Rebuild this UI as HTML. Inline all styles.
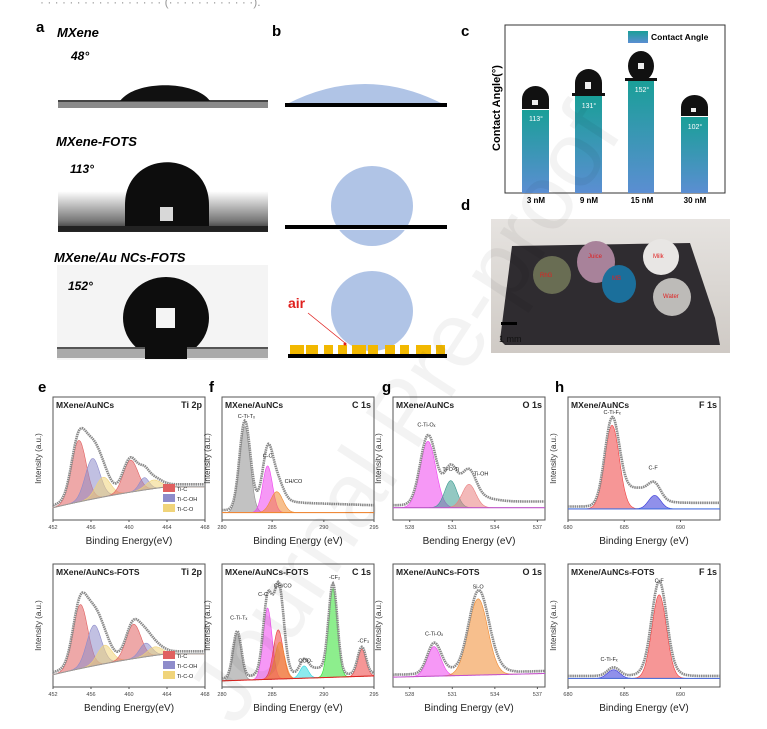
<!DOCTYPE html>
<html><head><meta charset="utf-8"><style>
html,body{margin:0;padding:0;background:#fff;}
svg{display:block;font-family:"Liberation Sans",Arial,sans-serif;}
</style></head><body>
<svg id="s" width="767" height="729" viewBox="0 0 767 729" xmlns="http://www.w3.org/2000/svg">
<defs>
<linearGradient id="bar" x1="0" y1="0" x2="0" y2="1"><stop offset="0" stop-color="#1a9f98"/><stop offset="1" stop-color="#5b8ed2"/></linearGradient>
<linearGradient id="bg2" x1="0" y1="0" x2="0" y2="1"><stop offset="0" stop-color="#fff"/><stop offset="0.45" stop-color="#fff"/><stop offset="0.85" stop-color="#777"/><stop offset="1" stop-color="#222"/></linearGradient>
<linearGradient id="ph" x1="0" y1="0" x2="0" y2="1"><stop offset="0" stop-color="#e6e3e0"/><stop offset="1" stop-color="#cfcac5"/></linearGradient>
</defs>
<text x="40" y="6" font-size="12" fill="#999">· · · · · · · · · · · · · · · · · (· · · ·  · · · · ·  · · ·).</text>

<text x="36" y="32" font-size="15" font-weight="bold">a</text>
<text x="57" y="37" font-size="13" font-weight="bold" font-style="italic">MXene</text>
<text x="71" y="60" font-size="12" font-weight="bold" font-style="italic">48°</text>
<rect x="58" y="100" width="210" height="8" fill="#8a8a8a"/>
<rect x="58" y="100" width="210" height="2" fill="#444"/>
<path d="M120,101 C135,80 195,80 210,101 Z" fill="#111"/>
<text x="56" y="146" font-size="13" font-weight="bold" font-style="italic">MXene-FOTS</text>
<rect x="58" y="158" width="210" height="74" fill="url(#bg2)"/>
<path d="M125,229 L125,205 C125,148 209,148 209,205 L209,229 Z" fill="#0d0d0d"/>
<rect x="160" y="207" width="13" height="14" fill="#eee" opacity="0.9"/>
<rect x="58" y="226" width="210" height="5" fill="#222"/>
<text x="70" y="173" font-size="12" font-weight="bold" font-style="italic">113°</text>
<text x="54" y="262" font-size="13" font-weight="bold" font-style="italic">MXene/Au NCs-FOTS</text>
<rect x="57" y="265" width="211" height="95" fill="#f4f4f4"/>
<ellipse cx="166" cy="318" rx="43" ry="41" fill="#0d0d0d"/>
<rect x="156" y="308" width="19" height="20" fill="#f4f4f4"/>
<rect x="57" y="347" width="211" height="11" fill="#aaa"/>
<rect x="57" y="347" width="211" height="2" fill="#555"/>
<rect x="145" y="347" width="42" height="12" fill="#0d0d0d"/>
<text x="68" y="290" font-size="12" font-weight="bold" font-style="italic">152°</text>

<text x="272" y="36" font-size="15" font-weight="bold">b</text>
<path d="M287,104 Q365,64 443,104 Z" fill="#b0c4e6"/>
<rect x="285" y="103" width="162" height="4" fill="#000"/>
<ellipse cx="372" cy="206" rx="41" ry="40" fill="#b0c4e6"/>
<rect x="285" y="226" width="162" height="4" fill="#fff"/>
<rect x="285" y="225" width="162" height="4" fill="#000"/>
<ellipse cx="372" cy="311" rx="41" ry="40" fill="#b0c4e6"/>
<g fill="#f2b800">
<rect x="290" y="345" width="14" height="9"/><rect x="306" y="345" width="12" height="9"/><rect x="324" y="345" width="9" height="9"/><rect x="338" y="345" width="9" height="9"/><rect x="352" y="345" width="14" height="9"/><rect x="368" y="345" width="10" height="9"/><rect x="385" y="345" width="10" height="9"/><rect x="400" y="345" width="9" height="9"/><rect x="416" y="345" width="15" height="9"/><rect x="436" y="345" width="9" height="9"/>
</g>
<rect x="288" y="354" width="159" height="4" fill="#000"/>
<text x="288" y="308" font-size="14" font-weight="bold" fill="#e0201e">air</text>
<line x1="308" y1="313" x2="345" y2="343" stroke="#e0201e" stroke-width="0.8"/>
<circle cx="345" cy="344" r="1.5" fill="#e0201e"/>

<text x="461" y="36" font-size="15" font-weight="bold">c</text>
<rect x="505" y="25" width="220" height="168" fill="none" stroke="#333" stroke-width="1"/>
<text transform="translate(500,108) rotate(-90)" text-anchor="middle" font-size="11" font-weight="bold">Contact Angle(°)</text>
<rect x="628" y="31" width="20" height="12" fill="url(#bar)"/>
<text x="651" y="40" font-size="8.5" font-weight="bold">Contact Angle</text>
<rect x="522" y="110" width="27" height="83" fill="url(#bar)"/>
<rect x="575" y="96" width="27" height="97" fill="url(#bar)"/>
<rect x="628" y="81" width="26" height="112" fill="url(#bar)"/>
<rect x="681" y="117" width="27" height="76" fill="url(#bar)"/>
<g fill="#111">
<path d="M522,109 L522,99 A13.5,13 0 0 1 549,99 L549,109 Z"/>
<path d="M575,95 L575,83 A13.5,14 0 0 1 602,83 L602,95 Z"/><rect x="572" y="93" width="33" height="3"/>
<ellipse cx="641" cy="66" rx="13" ry="15"/><rect x="625" y="78" width="32" height="3"/>
<path d="M681,116 L681,107 A13.5,12 0 0 1 708,107 L708,116 Z"/>
</g>
<g fill="#eee"><rect x="532" y="100" width="6" height="5"/><rect x="585" y="82" width="6" height="7"/><rect x="638" y="63" width="6" height="6"/><rect x="691" y="108" width="5" height="4"/></g>
<g font-size="7" fill="#fff" text-anchor="middle"><text x="536" y="121">113°</text><text x="589" y="108">131°</text><text x="642" y="92">152°</text><text x="695" y="129">102°</text></g>
<g font-size="8" font-weight="bold" text-anchor="middle"><text x="536" y="203">3 nM</text><text x="589" y="203">9 nM</text><text x="642" y="203">15 nM</text><text x="695" y="203">30 nM</text></g>

<text x="461" y="210" font-size="15" font-weight="bold">d</text>
<rect x="491" y="219" width="239" height="134" fill="url(#ph)"/>
<path d="M500,340 L512,246 L690,243 L715,318 L720,345 L505,345 Z" fill="#2f2c30"/>
<circle cx="552" cy="275" r="19" fill="#6d7155" opacity="0.95"/>
<ellipse cx="596" cy="262" rx="19" ry="21" fill="#a8829a"/>
<ellipse cx="619" cy="284" rx="17" ry="19" fill="#1b6f9b"/>
<circle cx="661" cy="257" r="18" fill="#e8e6e4"/>
<circle cx="672" cy="297" r="19" fill="#bdbbb8"/>
<g font-size="6" fill="#e02020"><text x="540" y="277">RhG</text><text x="588" y="258">Juice</text><text x="612" y="280">MB</text><text x="653" y="258">Milk</text><text x="663" y="298">Water</text></g>
<rect x="501" y="322" width="16" height="3" fill="#000"/>
<text x="499" y="342" font-size="9" fill="#111">1 mm</text>

<g font-size="15" font-weight="bold"><text x="38" y="392">e</text><text x="209" y="392">f</text><text x="382" y="392">g</text><text x="555" y="392">h</text></g>
<g id="xps"></g>

<text transform="translate(430,430) rotate(-57)" text-anchor="middle" font-size="92" fill="#000" opacity="0.045">Journal Pre-proof</text>
</svg>
<script>
var NS="http://www.w3.org/2000/svg",G=document.getElementById("xps");
function el(t,a,txt){var e=document.createElementNS(NS,t);for(var k in a)e.setAttribute(k,a[k]);if(txt!==undefined)e.textContent=txt;G.appendChild(e);return e;}
function g(x,c,w){return Math.exp(-0.5*Math.pow((x-c)/w,2));}
var WF=1.6;
function panel(o){
 var x0=o.x,y0=o.y,W=o.w,H=o.h,N=200;
 o.peaks.forEach(function(p){p.w*=WF;});
 el("rect",{x:x0,y:y0,width:W,height:H,fill:"#fff",stroke:"#555","stroke-width":1});
 function bg(t){return o.bg(t);}
 function X(t){return x0+t*W;} function Y(v){return y0+H-v*H;}
 o.peaks.forEach(function(p){
  var top=[],bot=[];
  for(var i=0;i<=N;i++){var t=i/N;top.push(X(t).toFixed(1)+","+Y(bg(t)+p.a*g(t,p.c,p.w)).toFixed(1));}
  for(var i=N;i>=0;i--){var t=i/N;bot.push(X(t).toFixed(1)+","+Y(bg(t)).toFixed(1));}
  el("path",{d:"M"+top.join(" L")+" L"+bot.join(" L")+"Z",fill:p.col,"fill-opacity":0.55,stroke:p.col,"stroke-width":0.6});
 });
 var pts=[];
 for(var i=0;i<=N;i++){var t=i/N,v=bg(t)+(o.extra?o.extra(t):0);o.peaks.forEach(function(p){v+=p.a*g(t,p.c,p.w);});pts.push(X(t).toFixed(1)+","+Y(Math.min(v+0.02,0.9)).toFixed(1));}
 el("path",{d:"M"+pts.join(" L"),fill:"none",stroke:"#8a8a8a","stroke-width":2.6,"stroke-dasharray":"1.5 0.7"});
 var bl=[];for(var i=0;i<=N;i++){var t=i/N;bl.push(X(t).toFixed(1)+","+Y(bg(t)).toFixed(1));}
 el("path",{d:"M"+bl.join(" L"),fill:"none",stroke:o.blc||"#999","stroke-width":1});
 el("text",{x:x0+3,y:y0+11,"font-size":8.5,"font-weight":"bold",fill:"#222"},o.t1);
 el("text",{x:x0+W-3,y:y0+11,"font-size":9,"font-weight":"bold","text-anchor":"end",fill:"#222"},o.t2);
 el("text",{transform:"translate("+(x0-12)+","+(y0+H/2)+") rotate(-90)","text-anchor":"middle","font-size":8,fill:"#333"},"Intensity (a.u.)");
 o.ticks.forEach(function(tk){el("line",{x1:X(tk[0]),y1:y0+H,x2:X(tk[0]),y2:y0+H+2,stroke:"#555"});el("text",{x:X(tk[0]),y:y0+H+9,"font-size":5.5,"text-anchor":"middle",fill:"#444"},tk[1]);});
 el("text",{x:x0+W/2,y:y0+H+24,"font-size":10,"text-anchor":"middle",fill:"#222"},o.xl);
 (o.labels||[]).forEach(function(l){el("text",{x:X(l[0]),y:Y(l[1]),"font-size":5.5,"text-anchor":"middle",fill:"#222"},l[2]);});
}
var R="#e06060",B="#8e8ccb",Yl="#f0d47a",Gr="#8f8f8f",M="#ee44ee",O="#f08a30",T="#3a9a90",P="#e98080",Rd="#ef4040",Bl="#3535d8",Cy="#30d8e0",Gn="#30e030";
var tE=[[0,"452"],[0.25,"456"],[0.5,"460"],[0.75,"464"],[1,"468"]];
var tF=[[0,"280"],[0.33,"285"],[0.67,"290"],[1,"295"]];
var tG=[[0.11,"528"],[0.39,"531"],[0.67,"534"],[0.95,"537"]];
var tH=[[0,"680"],[0.37,"685"],[0.74,"690"]];
var W=152;
function ebg(t){var u=Math.min(t/0.75,1);return 0.1+0.22*u-0.05*u*u;}
panel({x:53,y:397,w:W,h:123,t1:"MXene/AuNCs",t2:"Ti 2p",ticks:tE,xl:"Binding Energy(eV)",bg:ebg,
 peaks:[{c:0.17,a:0.5,w:0.03,col:R},{c:0.26,a:0.33,w:0.03,col:B},{c:0.33,a:0.16,w:0.03,col:Yl},{c:0.51,a:0.26,w:0.03,col:R},{c:0.6,a:0.1,w:0.02,col:B},{c:0.66,a:0.07,w:0.03,col:Yl}],
 extra:function(t){return 0.0;}});
panel({x:53,y:564,w:W,h:123,t1:"MXene/AuNCs-FOTS",t2:"Ti 2p",ticks:tE,xl:"Bending Energy(eV)",bg:ebg,
 peaks:[{c:0.18,a:0.52,w:0.03,col:R},{c:0.27,a:0.33,w:0.03,col:B},{c:0.34,a:0.15,w:0.03,col:Yl},{c:0.53,a:0.28,w:0.03,col:R},{c:0.61,a:0.11,w:0.025,col:B},{c:0.67,a:0.07,w:0.03,col:Yl}]});
[[397],[564]].forEach(function(a){var y=a[0]+87;[[R,"Ti-C"],[B,"Ti-C-OH"],[Yl,"Ti-C-O"]].forEach(function(l,i){el("rect",{x:163,y:y+i*10,width:12,height:8,fill:l[0]});el("text",{x:177,y:y+i*10+7,"font-size":5.5,fill:"#222"},l[1]);});});
panel({x:222,y:397,w:W,h:123,t1:"MXene/AuNCs",t2:"C 1s",ticks:tF,xl:"Binding Energy (eV)",
 bg:function(t){return 0.06;},blc:"#f08a30",
 peaks:[{c:0.15,a:0.7,w:0.022,col:Gr},{c:0.3,a:0.38,w:0.02,col:M},{c:0.36,a:0.17,w:0.025,col:O}],
 extra:function(t){return 0.08*Math.min(1,Math.max(0,(t-0.1)*5))*(1-0.5*t)+0.03*g(t,0.3,0.1);},
 labels:[[0.16,0.83,"C-Ti-Tₓ"],[0.3,0.51,"C-C"],[0.47,0.3,"CH/CO"]]});
panel({x:222,y:564,w:W,h:123,t1:"MXene/AuNCs-FOTS",t2:"C 1s",ticks:tF,xl:"Binding Energy (eV)",
 bg:function(t){return 0.05+0.04*t;},blc:"#e02020",
 peaks:[{c:0.1,a:0.38,w:0.017,col:Gr},{c:0.3,a:0.58,w:0.018,col:M},{c:0.37,a:0.4,w:0.02,col:Rd},{c:0.38,a:0.3,w:0.02,col:O},{c:0.54,a:0.1,w:0.017,col:Cy},{c:0.73,a:0.72,w:0.018,col:Gn},{c:0.92,a:0.22,w:0.017,col:Rd}],
 extra:function(t){return 0.06*g(t,0.33,0.08)+0.06*g(t,0.62,0.08);},
 labels:[[0.11,0.55,"C-Ti-Tₓ"],[0.27,0.74,"C-C"],[0.4,0.81,"CH/CO"],[0.55,0.2,"COO-"],[0.74,0.88,"-CF₂"],[0.93,0.36,"-CF₃"]]});
panel({x:393,y:397,w:W,h:123,t1:"MXene/AuNCs",t2:"O 1s",ticks:tG,xl:"Bending Energy (eV)",
 bg:function(t){return 0.1;},blc:"#c050d0",
 peaks:[{c:0.23,a:0.54,w:0.032,col:M},{c:0.38,a:0.22,w:0.025,col:T},{c:0.5,a:0.19,w:0.028,col:P}],
 extra:function(t){return 0.08*g(t,0.45,0.13)+0.03*Math.max(0,Math.min(1,(t-0.15)*5));},
 labels:[[0.22,0.76,"C-Ti-Oₓ"],[0.38,0.4,"Ti-O-Ti"],[0.58,0.36,"Ti-OH"]]});
panel({x:393,y:564,w:W,h:123,t1:"MXene/AuNCs-FOTS",t2:"O 1s",ticks:tG,xl:"Binding Energy (eV)",
 bg:function(t){return 0.08+0.03*t;},blc:"#c050d0",
 peaks:[{c:0.27,a:0.24,w:0.028,col:M},{c:0.56,a:0.62,w:0.04,col:O}],
 extra:function(t){return 0.08*g(t,0.63,0.07)+0.03*g(t,0.35,0.06);},
 labels:[[0.27,0.42,"C-Ti-Oₓ"],[0.56,0.8,"Si-O"]]});
panel({x:568,y:397,w:W,h:123,t1:"MXene/AuNCs",t2:"F 1s",ticks:tH,xl:"Binding Energy (eV)",
 bg:function(t){return 0.09;},blc:"#4070e0",
 peaks:[{c:0.29,a:0.68,w:0.03,col:Rd},{c:0.57,a:0.11,w:0.025,col:Bl}],
 extra:function(t){return 0.12*g(t,0.45,0.1)+0.03*Math.max(0,Math.min(1,(t-0.2)*5));},
 labels:[[0.29,0.86,"C-Ti-Fₓ"],[0.56,0.41,"C-F"]]});
panel({x:568,y:564,w:W,h:123,t1:"MXene/AuNCs-FOTS",t2:"F 1s",ticks:tH,xl:"Binding Energy (eV)",
 bg:function(t){return 0.07;},blc:"#4070e0",
 peaks:[{c:0.3,a:0.07,w:0.025,col:Bl},{c:0.6,a:0.68,w:0.03,col:Rd}],
 extra:function(t){return 0.09*g(t,0.6,0.08);},
 labels:[[0.27,0.21,"C-Ti-Fₓ"],[0.6,0.85,"C-F"]]});
</script>
</body></html>
